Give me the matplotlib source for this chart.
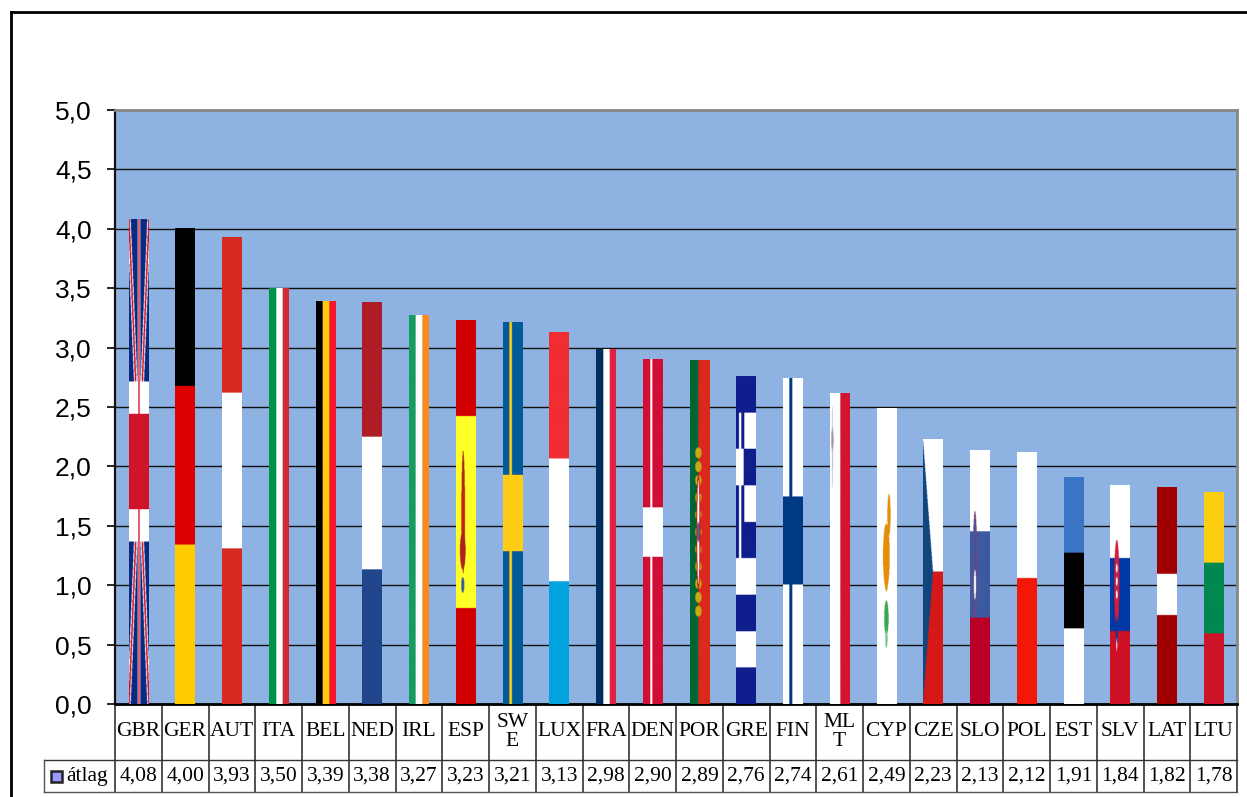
import numpy as np
import matplotlib
matplotlib.use("Agg")
from matplotlib import pyplot as plt
from matplotlib.colors import to_rgb
from matplotlib.patches import Rectangle

countries = ["GBR","GER","AUT","ITA","BEL","NED","IRL","ESP","SW\nE","LUX","FRA","DEN",
             "POR","GRE","FIN","ML\nT","CYP","CZE","SLO","POL","EST","SLV","LAT","LTU"]
flag_keys = ["GBR","GER","AUT","ITA","BEL","NED","IRL","ESP","SWE","LUX","FRA","DEN",
             "POR","GRE","FIN","MLT","CYP","CZE","SLO","POL","EST","SLV","LAT","LTU"]
values = [4.08,4.00,3.93,3.50,3.39,3.38,3.27,3.23,3.21,3.13,2.98,2.90,
          2.89,2.76,2.74,2.61,2.49,2.23,2.13,2.12,1.91,1.84,1.82,1.78]
value_labels = ["4,08","4,00","3,93","3,50","3,39","3,38","3,27","3,23","3,21","3,13","2,98","2,90",
                "2,89","2,76","2,74","2,61","2,49","2,23","2,13","2,12","1,91","1,84","1,82","1,78"]
y_ticks = [0,0.5,1,1.5,2,2.5,3,3.5,4,4.5,5]
y_labels = ["0,0","0,5","1,0","1,5","2,0","2,5","3,0","3,5","4,0","4,5","5,0"]
series_name = "átlag"

W, H = 1247, 797
L, R, T, B = 115, 1237, 110, 704
NX, NY = 60, 600

# u = 0..1 left to right, v = 0..1 bottom to top
u, v = np.meshgrid((np.arange(NX)+.5)/NX, (np.arange(NY)+.5)/NY)

def paint(img, mask, color):
    img[mask] = to_rgb(color)

def hbands(img, cuts, colors):
    for a, b, c in zip(cuts[:-1], cuts[1:], colors):
        paint(img, (v >= a) & (v < b), c)

def vbands(img, cuts, colors):
    for a, b, c in zip(cuts[:-1], cuts[1:], colors):
        paint(img, (u >= a) & (u < b), c)

def blob(img, cu, cv, ru, rv, color):
    paint(img, ((u-cu)/ru)**2 + ((v-cv)/rv)**2 < 1, color)

def make_flag(key):
    img = np.ones((NY, NX, 3))
    if key == "GBR":
        paint(img, u > -1, "#0a2a82")
        d1, d2 = np.abs(u-v), np.abs(u-(1-v))
        paint(img, (d1 < .085) | (d2 < .085), "white")
        paint(img, (d1 < .04) | (d2 < .04), "#cf142b")
        paint(img, (np.abs(v-.5) < .165) | (np.abs(u-.5) < .07), "white")
        paint(img, (np.abs(v-.5) < .098) | (np.abs(u-.5) < .035), "#cf142b")
    elif key == "GER":
        hbands(img, [0,.335,.668,1], ["#ffcc00","#dd0000","black"])
    elif key == "AUT":
        hbands(img, [0,.334,.666,1], ["#d62a20","white","#d62a20"])
    elif key == "ITA":
        vbands(img, [0,.36,.69,1], ["#009246","white","#ce2b37"])
    elif key == "BEL":
        vbands(img, [0,.33,.67,1], ["black","#ffcc10","#f31830"])
    elif key == "NED":
        hbands(img, [0,.335,.665,1], ["#21468b","white","#ae1c28"])
    elif key == "IRL":
        vbands(img, [0,.34,.67,1], ["#169b62","white","#f98a20"])
    elif key == "ESP":
        hbands(img, [0,.25,.75,1], ["#d00000","#ffff28","#d00000"])
        blob(img, .36, .50, .09, .16, "#c8201c")
        blob(img, .34, .40, .14, .05, "#b02020")
        blob(img, .36, .60, .05, .06, "#a83018")
        blob(img, .34, .31, .08, .02, "#3a5aa0")
    elif key == "SWE":
        paint(img, u > -1, "#005b99")
        paint(img, (np.abs(v-.5) < .1) | ((u > .32) & (u < .45)), "#ffcd14")
    elif key == "LUX":
        hbands(img, [0,.33,.66,1], ["#00a3de","white","#f02d32"])
    elif key == "FRA":
        vbands(img, [0,.37,.68,1], ["#002f5f","white","#dc2346"])
    elif key == "DEN":
        paint(img, u > -1, "#cf0f35")
        paint(img, ((v > .426) & (v < .57)) | ((u > .37) & (u < .47)), "white")
    elif key == "POR":
        vbands(img, [0,.42,1], ["#006633","#dc281e"])
        for cv_ in [.27,.31,.35,.40,.45,.50,.55,.60,.65,.69,.73]:
            blob(img, .42, cv_, .16, .016, "#c8a818")
        blob(img, .42, .5, .11, .17, "#c01c18")
        blob(img, .42, .5, .055, .15, "white")
        blob(img, .42, .5, .06, .03, "#5060a0")
    elif key == "GRE":
        paint(img, u > -1, "white")
        for k in [0,2,4,6,8]:
            paint(img, (v >= k/9) & (v < (k+1)/9), "#0f1e8c")
        canton = (v > 4/9) & (v < 8/9) & (u < .42)
        paint(img, canton, "#0f1e8c")
        paint(img, ((v > 6/9) & (v < 7/9) & (u < .38)) | (canton & (u > .15) & (u < .27)), "white")
    elif key == "FIN":
        paint(img, ((v > .366) & (v < .637)) | ((u > .32) & (u < .47)), "#003a85")
    elif key == "MLT":
        vbands(img, [0,.52,1], ["white","#d3142d"])
        blob(img, .12, .825, .025, .135, "#b8b0b0")
        blob(img, .12, .85, .06, .035, "#a09898")
    elif key == "CYP":
        blob(img, .47, .5, .17, .11, "#e48e0a")
        blob(img, .6, .64, .08, .07, "#e48e0a")
        blob(img, .47, .41, .07, .03, "#e48e0a")
        blob(img, .47, .29, .11, .06, "#3aa655")
        blob(img, .47, .22, .06, .03, "#7cc48e")
    elif key == "CZE":
        hbands(img, [0,.5,1], ["#d61818","white"])
        paint(img, u < .5*(1-np.abs(2*v-1)), "#11457e")
    elif key == "SLO":
        hbands(img, [0,.34,.68,1], ["#ba0028","#3c5aa0","white"])
        blob(img, .25, .55, .11, .21, "#8c3c78")
        blob(img, .25, .55, .07, .19, "#3c5aa0")
        blob(img, .25, .47, .05, .06, "white")
    elif key == "POL":
        hbands(img, [0,.5,1], ["#f31708","white"])
    elif key == "EST":
        hbands(img, [0,.333,.667,1], ["white","black","#3a75c4"])
    elif key == "SLV":
        hbands(img, [0,.333,.667,1], ["#ce1126","#0038a5","white"])
        blob(img, .34, .55, .13, .2, "#d61c38")
        for cv_ in [.5,.56,.62]:
            blob(img, .34, cv_, .04, .02, "white")
        blob(img, .34, .33, .05, .07, "#0038a5")
        blob(img, .34, .27, .02, .03, "white")
    elif key == "LAT":
        hbands(img, [0,.41,.6,1], ["#a10000","white","#a10000"])
    elif key == "LTU":
        hbands(img, [0,.333,.667,1], ["#ce1429","#008850","#fdcf10"])
    return img

fig = plt.figure(figsize=(W/100, H/100), dpi=100)
fig.patch.set_facecolor("white")
ax = fig.add_axes([L/W, 1-B/H, (R-L)/W, (B-T)/H])
ax.set_facecolor("#8eb3e3")

x = np.arange(len(values))
bars = ax.bar(x, values, width=0.42, color="none", zorder=3)
for bar, key in zip(bars, flag_keys):
    ax.imshow(make_flag(key), origin="lower", aspect="auto", interpolation="bilinear", zorder=3,
              extent=[bar.get_x(), bar.get_x()+bar.get_width(), 0, bar.get_height()])

ax.set_xlim(-0.5, len(values)-0.5)
ax.set_ylim(0, 5)
ax.set_yticks(y_ticks, y_labels, fontfamily="Liberation Sans", fontsize=19)
ax.set_xticks([])
ax.tick_params(axis="y", length=5.8, width=1.2, pad=11)
ax.grid(axis="y", color="#101010", linewidth=1, zorder=1)
ax.set_axisbelow(True)
ax.spines["top"].set_linewidth(2)
ax.spines["top"].set_color("#888888")
ax.spines["left"].set_linewidth(1.6)
ax.spines["left"].set_color("#111111")
ax.spines["bottom"].set_linewidth(2)
ax.spines["right"].set_linewidth(2)
ax.spines["right"].set_color("#888888")

# table below the axis
tr = ax.get_xaxis_transform()
row1 = (B-760)/(B-T)
row2 = (B-792)/(B-T)
key_left = (44-L)/((R-L)/len(values)) - 0.5
for i in range(len(values)+1):
    ax.plot([i-.5, i-.5], [0, row2], transform=tr, color="#222222", lw=1.1, clip_on=False)
ax.plot([key_left, len(values)-.5], [row1, row1], transform=tr, color="#333333", lw=1, clip_on=False)
ax.plot([key_left, len(values)-.5], [row2, row2], transform=tr, color="#555555", lw=1, clip_on=False)
ax.plot([key_left, key_left], [row1, row2], transform=tr, color="#555555", lw=1, clip_on=False)
for i in x:
    ax.text(i, row1/2, countries[i], transform=tr, ha="center", va="center", family="Liberation Serif",
            fontsize=15.5, clip_on=False, linespacing=1.0)
    ax.text(i, (row1+row2)/2, value_labels[i], transform=tr, ha="center", va="center",
            family="Liberation Serif", fontsize=15.5, clip_on=False)
fig.text(66/W, 1-776/H, series_name, family="Liberation Serif", fontsize=15.5, va="center")
fig.add_artist(Rectangle((51/W, 1-782/H), 11/W, 11/H, transform=fig.transFigure,
                         facecolor="#9999ff", edgecolor="#222222", linewidth=1.8))

# outer chart frame
fig.add_artist(plt.Line2D([11/W, 11/W], [0, 1-12/H], color="black", lw=2))
fig.add_artist(plt.Line2D([11/W, 1], [1-12/H, 1-12/H], color="black", lw=2))

fig.savefig("out.png", dpi=100)
